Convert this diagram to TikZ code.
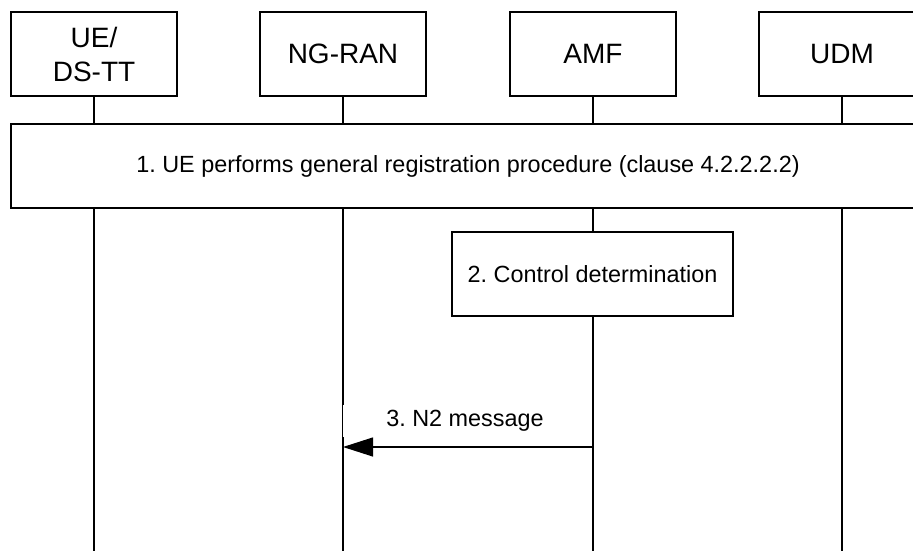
\documentclass[tikz,border=0pt]{standalone}
\usepackage{fontspec}
\setmainfont{Liberation Sans}
\usetikzlibrary{arrows.meta,positioning}
\frenchspacing

\begin{document}
\begin{tikzpicture}[
  x=1pt,y=-1pt,
  line width=1.2pt,
  hdr/.style={rectangle,draw=black,fill=white,minimum width=166pt,minimum height=84pt,
    align=center,inner sep=0pt,font=\fontsize{28}{34}\selectfont},
  stepbox/.style={rectangle,draw=black,fill=white,minimum height=84pt,inner sep=0pt,
    font=\fontsize{23.4}{28}\selectfont},
  lifeline/.style={draw=black},
  msg/.style={-{Triangle[length=30pt,width=19pt]}},
  msglabel/.style={fill=white,minimum height=32pt,inner xsep=43pt,inner ysep=0pt,
    font=\fontsize{23.4}{28}\selectfont}
]
\useasboundingbox (0,0) rectangle (913,551);
\clip (0,0) rectangle (913,551);
% entities and lifelines
\foreach \n/\x/\lab in {ue/94/{UE/\\DS-TT},ngran/343/{NG-RAN},amf/593/{AMF},udm/842/{UDM}}{
  \node[hdr] (\n) at (\x,54) {\lab};
  \coordinate (\n-end) at (\x,551);
  \draw[lifeline] (\n) -- (\n-end);
}
% step 1
\node[stepbox,minimum width=914pt] (reg) at (468,166)
  {1. UE performs general registration procedure (clause 4.2.2.2.2)};
% step 2
\node[stepbox,minimum width=281pt] (ctrl) at (592.5,274) {2. Control determination};
% step 3
\coordinate (m3s) at (593,447);
\coordinate (m3e) at (343,447);
\draw[msg] (m3s) -- (m3e);
\node[msglabel] (m3l) at (465,421) {3. N2 message};
\end{tikzpicture}
\end{document}
